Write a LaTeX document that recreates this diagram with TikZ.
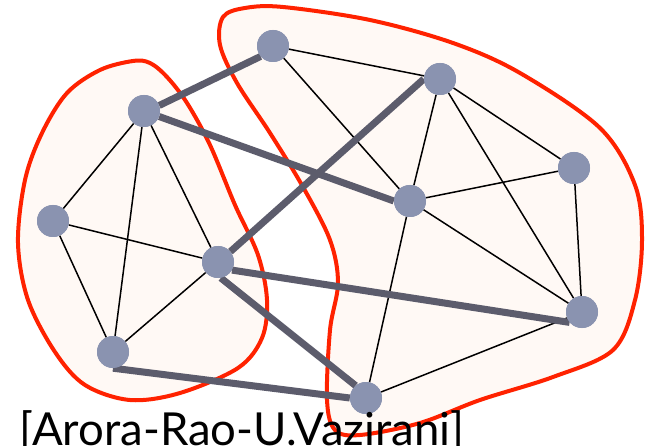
\documentclass[tikz,border=0pt]{standalone}
\usepackage{fontspec}
\setmainfont{Lato}
\definecolor{nodefill}{HTML}{8A93B0}
\definecolor{thickc}{HTML}{5C5C6C}
\definecolor{blobfill}{HTML}{FFF9F5}
\definecolor{blobline}{HTML}{FF2200}
\tikzset{
  vtx/.style={circle, fill=nodefill, minimum size=32pt, inner sep=0pt},
  thin/.style={draw=black, line width=1.5pt},
  cut/.style={draw=thickc, line width=7pt},
  blob/.style={draw=blobline, line width=4pt, fill=blobfill},
}
\begin{document}
\begin{tikzpicture}[x=1pt,y=-1pt]
\useasboundingbox (0,0) rectangle (650,446);
\clip (0,0) rectangle (650,446);
\fill[white] (0,0) rectangle (650,446);
% clusters
\path[blob] plot[smooth cycle, tension=0.55] coordinates {
 (133,61) (150,63) (167,77) (187,103) (210,145) (235,205) (258,255) (267,300)
 (262,338) (238,368) (180,393) (130,400) (85,385) (55,352) (28,300) (18,243)
 (25,180) (42,133) (67,93) (100,70)};
\path[blob] plot[smooth cycle, tension=0.55] coordinates {
 (223,17) (245,8) (283,7) (370,20) (453,43) (520,73) (600,128) (635,185)
 (642,240) (635,300) (613,350) (553,377) (480,400) (420,423) (360,435) (335,430)
 (327,400) (330,330) (338,283) (330,240) (303,187) (270,133) (237,83) (220,45)};
% vertices
\node[vtx] (A) at (144,111) {};
\node[vtx] (B) at (53,221) {};
\node[vtx] (C) at (218,262) {};
\node[vtx] (D) at (113,352) {};
\node[vtx] (E) at (273,46) {};
\node[vtx] (F) at (440,79) {};
\node[vtx] (G) at (574,168) {};
\node[vtx] (H) at (410,201) {};
\node[vtx] (I) at (582,312) {};
\node[vtx] (J) at (366,398) {};
% edges
\foreach \u/\v in {A/B,A/C,A/D,B/C,B/D,C/D,E/F,E/H,F/H,F/G,F/I,G/H,G/I,H/I,H/J,J/I}
  \draw[thin] (\u) -- (\v);
\draw[cut] (A.20) -- (E.220);
\draw[cut] (A.-20) -- (H.180);
\draw[cut] (C.40) -- (F.180);
\draw[cut] (C.-30) -- (I.220);
\draw[cut] (C.-80) -- (J.130);
\draw[cut] (D.-90) -- (J.180);
% redraw vertices on top
\foreach \p in {{144,111},{53,221},{218,262},{113,352},{273,46},{440,79},{574,168},{410,201},{582,312},{366,398}}
  \fill[nodefill] (\p) circle (16pt);
\node[anchor=base west, inner sep=0pt, font=\fontsize{45.5}{46}\selectfont] (cite) at (19,445) {[Arora-Rao-U.Vazirani]};
\end{tikzpicture}
\end{document}
